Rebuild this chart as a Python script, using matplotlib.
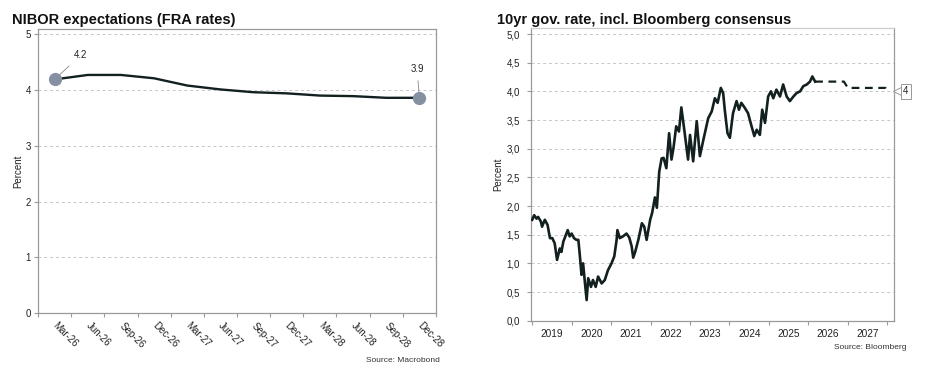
import matplotlib
matplotlib.use("Agg")
import matplotlib.pyplot as plt
from matplotlib.ticker import FixedLocator, FuncFormatter

plt.rcParams["font.family"] = ["Liberation Sans", "DejaVu Sans"]

# left chart: NIBOR FRA expectations
fra_labels = ["Mar-26", "Jun-26", "Sep-26", "Dec-26", "Mar-27", "Jun-27",
              "Sep-27", "Dec-27", "Mar-28", "Jun-28", "Sep-28", "Dec-28"]
fra_values = [4.19, 4.27, 4.27, 4.21, 4.08, 4.01, 3.96, 3.94, 3.90, 3.89, 3.86, 3.86]
fra_yticks = [0, 1, 2, 3, 4, 5]

# right chart: 10yr government rate (history) and Bloomberg consensus
hist_years = [
    2019.00, 2019.05, 2019.11, 2019.15, 2019.22, 2019.25, 2019.32, 2019.39,
    2019.45, 2019.51, 2019.57, 2019.63, 2019.70, 2019.74, 2019.79, 2019.84,
    2019.90, 2019.95, 2020.00, 2020.06, 2020.12, 2020.17, 2020.21, 2020.25,
    2020.29, 2020.33, 2020.38, 2020.42, 2020.49, 2020.54, 2020.61, 2020.67,
    2020.76, 2020.84, 2020.92, 2021.01, 2021.08, 2021.14, 2021.16, 2021.22,
    2021.30, 2021.39, 2021.46, 2021.52, 2021.56, 2021.61, 2021.69, 2021.78,
    2021.84, 2021.90, 2021.99, 2022.04, 2022.11, 2022.16, 2022.22, 2022.28,
    2022.33, 2022.40, 2022.47, 2022.53, 2022.58, 2022.65, 2022.72, 2022.78,
    2022.86, 2022.95, 2023.00, 2023.08, 2023.17, 2023.25, 2023.34, 2023.46,
    2023.55, 2023.63, 2023.70, 2023.78, 2023.84, 2023.88, 2023.95, 2024.01,
    2024.09, 2024.18, 2024.24, 2024.30, 2024.39, 2024.47, 2024.56, 2024.63,
    2024.69, 2024.77, 2024.83, 2024.90, 2024.98, 2025.05, 2025.11, 2025.19,
    2025.28, 2025.36, 2025.45, 2025.53, 2025.62, 2025.70, 2025.79, 2025.87,
    2025.96, 2026.04, 2026.10, 2026.17,
]
hist_values = [
    1.76, 1.84, 1.78, 1.81, 1.73, 1.64, 1.76, 1.67,
    1.44, 1.44, 1.35, 1.06, 1.26, 1.20, 1.38, 1.47,
    1.58, 1.47, 1.52, 1.44, 1.41, 1.41, 1.12, 0.80,
    1.00, 0.71, 0.36, 0.74, 0.59, 0.71, 0.59, 0.77,
    0.65, 0.71, 0.88, 1.00, 1.12, 1.41, 1.58, 1.44,
    1.47, 1.52, 1.45, 1.30, 1.10, 1.20, 1.41, 1.70,
    1.64, 1.41, 1.76, 1.88, 2.15, 1.97, 2.60, 2.83,
    2.84, 2.66, 3.27, 2.81, 3.01, 3.39, 3.30, 3.72,
    3.30, 2.81, 3.24, 2.78, 3.48, 2.87, 3.16, 3.53,
    3.65, 3.88, 3.80, 4.06, 3.97, 3.68, 3.27, 3.19,
    3.62, 3.83, 3.68, 3.80, 3.71, 3.62, 3.39, 3.22,
    3.33, 3.24, 3.68, 3.45, 3.91, 4.00, 3.88, 4.03,
    3.91, 4.12, 3.91, 3.83, 3.91, 3.97, 4.00, 4.09,
    4.12, 4.17, 4.26, 4.17,
]
cons_years = [2026.17, 2026.90, 2027.00, 2027.95, 2028.00]
cons_values = [4.17, 4.17, 4.06, 4.06, 4.00]
year_edges = list(range(2019, 2029))
year_labels = [str(y) for y in range(2019, 2028)]
gov_yticks = [0.0, 0.5, 1.0, 1.5, 2.0, 2.5, 3.0, 3.5, 4.0, 4.5, 5.0]

line_col = "#122020"
grid_col = "#c6c6c6"
spine_col = "#9a9a9a"
text_col = "#222222"

fig = plt.figure(figsize=(9.39, 3.92), dpi=100)

# ---- left panel
ax1 = fig.add_axes([0.0405, 0.2015, 0.4238, 0.7245])
x_idx = list(range(len(fra_values)))
ax1.plot(x_idx, fra_values, color=line_col, lw=1.7, zorder=3)
ax1.plot([x_idx[0], x_idx[-1]], [fra_values[0], fra_values[-1]], "o",
         color="#8590a3", ms=8.5, zorder=4)
ax1.annotate("4.2", xy=(x_idx[0], fra_values[0]), xytext=(0.78, 4.62),
             ha="center", va="center", fontsize=7, color=text_col,
             arrowprops=dict(arrowstyle="-", color="#888888", lw=0.6,
                             shrinkA=3, shrinkB=2))
ax1.annotate("3.9", xy=(x_idx[-1], fra_values[-1]), xytext=(10.93, 4.38),
             ha="center", va="center", fontsize=7, color=text_col,
             arrowprops=dict(arrowstyle="-", color="#888888", lw=0.6,
                             shrinkA=3, shrinkB=2))
ax1.set_xlim(-0.5, len(fra_values) - 0.5)
ax1.set_ylim(0, 5.094)
ax1.set_yticks(fra_yticks)
ax1.set_xticks(x_idx)
ax1.set_xticklabels(fra_labels, rotation=-45, ha="left", va="center",
                    rotation_mode="anchor")
ax1.xaxis.set_minor_locator(FixedLocator([i - 0.5 for i in range(len(fra_values) + 1)]))
ax1.tick_params(axis="x", which="major", length=0, pad=8, labelsize=7, colors=text_col)
ax1.tick_params(axis="x", which="minor", length=3, width=0.8, color=spine_col)
ax1.tick_params(axis="y", length=3, width=0.8, color=spine_col, pad=2,
                labelsize=7, labelcolor=text_col)
ax1.grid(axis="y", color=grid_col, lw=0.7, ls=(0, (3, 3)))
ax1.set_axisbelow(True)
for s in ax1.spines.values():
    s.set_color(spine_col)
    s.set_linewidth(0.9)
ax1.set_ylabel("Percent", fontsize=7, color=text_col, labelpad=2)
fig.text(12.5 / 939, 1 - 20 / 392, "NIBOR expectations (FRA rates)",
         fontsize=10.5, fontweight="bold", color="#111111", va="center", ha="left")
fig.text(440 / 939, 1 - 361 / 392, "Source: Macrobond", fontsize=6,
         color="#333333", ha="right", va="center")

# ---- right panel
ax2 = fig.add_axes([0.5655, 0.1819, 0.3866, 0.7474])
ax2.plot(hist_years, hist_values, color=line_col, lw=1.9, zorder=3)
ax2.plot(cons_years, cons_values, color=line_col, lw=1.6, zorder=3,
         dashes=(3.5, 2.5))
ax2.set_xlim(2018.97, 2028.17)
ax2.set_ylim(0, 5.11)
ax2.set_yticks(gov_yticks)
ax2.yaxis.set_major_formatter(FuncFormatter(lambda v, p: f"{v:.1f}".replace(".", ",")))
ax2.set_xticks([y + 0.5 for y in range(2019, 2028)])
ax2.set_xticklabels(year_labels)
ax2.xaxis.set_minor_locator(FixedLocator(year_edges))
ax2.tick_params(axis="x", which="major", length=0, pad=6, labelsize=7.3, colors=text_col)
ax2.tick_params(axis="x", which="minor", length=3, width=0.8, color=spine_col)
ax2.tick_params(axis="y", length=3, width=0.8, color=spine_col, pad=5,
                labelsize=7, labelcolor=text_col)
ax2.grid(axis="y", color=grid_col, lw=0.7, ls=(0, (3, 3)))
ax2.set_axisbelow(True)
for s in ax2.spines.values():
    s.set_color(spine_col)
    s.set_linewidth(0.9)
ax2.spines["top"].set_color("#cccccc")
ax2.set_ylabel("Percent", fontsize=7, color=text_col, labelpad=2)

# callout for last consensus value
tr = ax2.get_yaxis_transform()
ax2.plot([1.012], [cons_values[-1]], marker="<", ms=7, mfc="white", mec="#999999",
         mew=0.7, transform=tr, clip_on=False, zorder=5)
ax2.text(1.032, cons_values[-1], "4", transform=tr, fontsize=7, color=text_col,
         ha="center", va="center", zorder=6,
         bbox=dict(boxstyle="square,pad=0.25", fc="white", ec="#999999", lw=0.7))

fig.text(496.5 / 939, 1 - 20 / 392, "10yr gov. rate, incl. Bloomberg consensus",
         fontsize=10.5, fontweight="bold", color="#111111", va="center", ha="left")
fig.text(906 / 939, 1 - 347.5 / 392, "Source: Bloomberg", fontsize=6,
         color="#333333", ha="right", va="center")

fig.savefig("out.png", dpi=100)
